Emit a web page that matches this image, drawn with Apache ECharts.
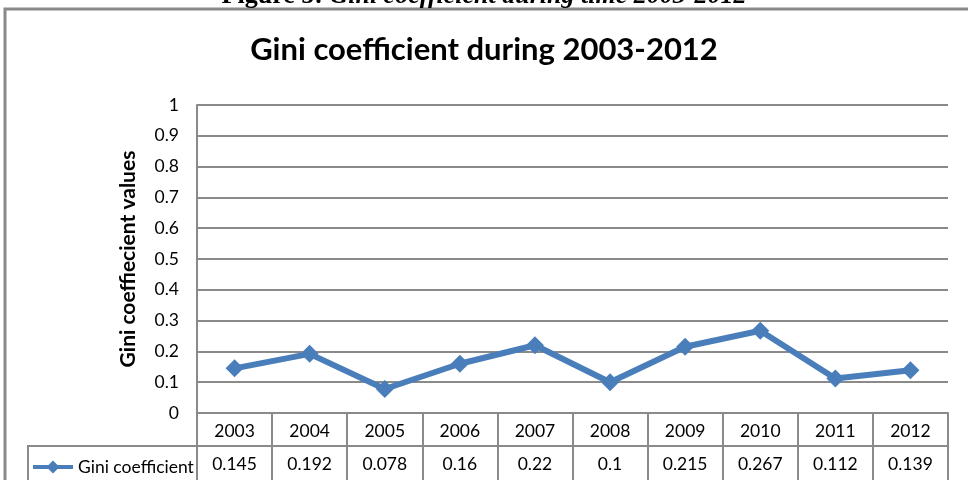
<!DOCTYPE html>
<html><head><meta charset="utf-8">
<script src="https://cdn.jsdelivr.net/npm/echarts@6/dist/echarts.min.js"></script>
<style>html,body{margin:0;padding:0;background:#fff}#c{width:968px;height:480px}</style>
</head><body><div id="c"></div>
<script>
const years = ['2003','2004','2005','2006','2007','2008','2009','2010','2011','2012'];
const giniValues = [0.145,0.192,0.078,0.16,0.22,0.1,0.215,0.267,0.112,0.139];
const yTicks = {min:0, max:1, interval:0.1};
const seriesName = 'Gini coefficient';
const chartTitle = 'Gini coefficient during 2003-2012';
const yAxisTitle = 'Gini coeffiecient values';
const captionBold = 'Figure 5: ';
const captionItalic = 'Gini coefficient during time 2003-2012';

const gray = '#8a8a8a';
const blue = '#4A7EBB';
const font = 'Lato, "Open Sans", sans-serif';
const chart = echarts.init(document.getElementById('c'));
chart.setOption({
  animation:false,
  backgroundColor:'#fff',
  title:{text:chartTitle,left:'center',top:29,
    textStyle:{fontFamily:font,fontWeight:'bold',fontSize:31,color:'#000'}},
  grid:{left:197,right:20,top:105,bottom:67},
  legend:{data:[{name:seriesName,
      icon:'path://M0,4.5 L15.5,4.5 L20,0 L24.5,4.5 L40,4.5 L40,8.5 L24.5,8.5 L20,13 L15.5,8.5 L0,8.5 Z'}],
    left:28,top:453,itemWidth:40,itemHeight:13,itemGap:4,
    itemStyle:{color:blue,borderWidth:0},
    textStyle:{fontFamily:font,fontSize:17.5,color:'#000'}},
  xAxis:[{
    type:'category',data:years,position:'bottom',
    axisLine:{lineStyle:{color:gray,width:2}},
    axisTick:{show:true,length:67,interval:0,lineStyle:{color:gray,width:2}},
    axisLabel:{margin:9,fontFamily:font,fontSize:17.5,color:'#000',interval:0}
  },{
    type:'category',data:giniValues.map(String),position:'bottom',offset:33,
    axisLine:{show:true,lineStyle:{color:gray,width:2}},
    axisTick:{show:false},
    axisLabel:{margin:9,fontFamily:font,fontSize:17.5,color:'#000',interval:0}
  }],
  yAxis:{type:'value',min:yTicks.min,max:yTicks.max,interval:yTicks.interval,
    name:yAxisTitle,nameLocation:'middle',nameGap:58,
    nameTextStyle:{fontFamily:font,fontWeight:'bold',fontSize:21,color:'#000'},
    axisLine:{show:true,lineStyle:{color:gray,width:2}},
    axisTick:{show:false},
    axisLabel:{margin:18,fontFamily:font,fontSize:17.5,color:'#000'},
    splitLine:{lineStyle:{color:gray,width:2}}
  },
  series:[{
    name:seriesName,type:'line',data:giniValues,xAxisIndex:0,
    symbol:'diamond',symbolSize:18,
    lineStyle:{color:blue,width:6},
    itemStyle:{color:blue}
  }],
  graphic:[
    {type:'rect',shape:{x:5,y:9,width:1000,height:520},silent:true,
      style:{fill:'none',stroke:gray,lineWidth:3}},
    {type:'rect',shape:{x:28,y:446,width:169,height:60},silent:true,
      style:{fill:'none',stroke:gray,lineWidth:2}},
    {type:'text',left:'center',y:-17,silent:true,
      style:{text:'{b|'+captionBold+'}{i|'+captionItalic+'}',
        rich:{b:{fontFamily:'"Liberation Serif", serif',fontWeight:'bold',fontSize:26,fill:'#000'},
              i:{fontFamily:'"Liberation Serif", serif',fontWeight:'bold',fontStyle:'italic',fontSize:26,fill:'#000'}}}}
  ]
});
</script></body></html>
